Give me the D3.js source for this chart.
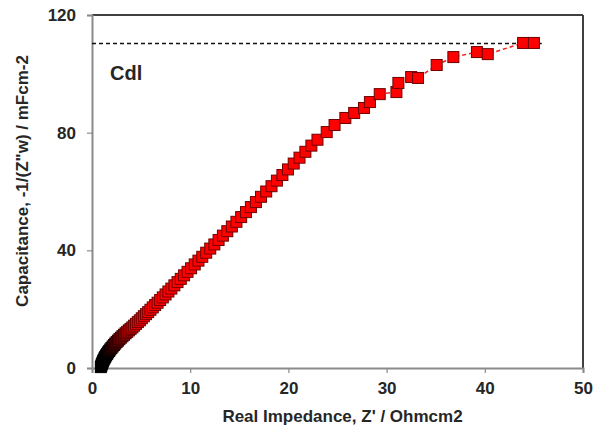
<!DOCTYPE html>
<html>
<head>
<meta charset="utf-8">
<script src="https://cdn.jsdelivr.net/npm/d3@7"></script>
<style>
  html, body { margin: 0; padding: 0; background: #fff; }
  svg { display: block; }
  text { font-family: Arial, "Liberation Sans", sans-serif; font-weight: bold; fill: #262626; }
</style>
</head>
<body>
<svg id="chart" width="594" height="428"></svg>
<script>
// ---- data ----
const realZ = [
  0.90, 0.95, 1.00, 1.06, 1.12, 1.19, 1.27, 1.35, 1.44, 1.54,
  1.64, 1.75, 1.86, 1.98, 2.10, 2.23, 2.36, 2.50, 2.64, 2.79,
  2.94, 3.10, 3.26, 3.42, 3.59, 3.76, 3.93, 4.11, 4.29, 4.48,
  4.67, 4.87, 5.07, 5.28, 5.50, 5.72, 5.95, 6.19, 6.43, 6.68,
  6.94, 7.21, 7.49, 7.78, 8.08, 8.39, 8.71, 9.04, 9.38, 9.73,
  10.09, 10.46, 10.84, 11.23, 11.63, 12.04, 12.46, 12.89, 13.33, 13.78,
  14.24, 14.71, 15.19, 15.68, 16.18, 16.69, 17.21, 17.74, 18.28, 18.83,
  19.39, 19.96, 20.54, 21.13, 21.73, 22.34, 22.96, 23.9, 24.7, 25.8,
  26.7, 27.7, 28.3, 29.3, 31.0, 31.2, 32.5, 33.2, 35.1, 36.8,
  39.2, 40.3, 43.9, 45.0
];
const capacitance = [
  0.3, 0.8, 1.3, 1.8, 2.3, 2.8, 3.3, 3.8, 4.3, 4.8,
  5.3, 5.8, 6.3, 6.8, 7.3, 7.8, 8.3, 8.8, 9.3, 9.8,
  10.3, 10.8, 11.3, 11.8, 12.3, 12.8, 13.3, 13.8, 14.4, 15.0,
  15.6, 16.2, 16.9, 17.6, 18.3, 19.0, 19.8, 20.6, 21.4, 22.2,
  23.1, 24.0, 25.0, 26.0, 27.0, 28.1, 29.2, 30.3, 31.5, 32.7,
  33.9, 35.2, 36.5, 37.8, 39.2, 40.6, 42.0, 43.5, 45.0, 46.5,
  48.1, 49.7, 51.3, 53.0, 54.7, 56.4, 58.2, 60.0, 61.8, 63.7,
  65.6, 67.5, 69.5, 71.5, 73.5, 75.6, 77.6, 80.2, 82.6, 85.0,
  86.7, 88.4, 90.4, 93.1, 93.8, 96.9, 98.9, 98.6, 103.0, 105.7,
  107.4, 106.7, 110.5, 110.5
];
const cdlValue = 110.3;
const cdlLineEnd = 45.8;
const xTicks = [0, 10, 20, 30, 40, 50];
const yTicks = [0, 40, 80, 120];
const xTitle = "Real Impedance, Z' / Ohmcm2";
const yTitle = 'Capacitance, -1/(Z"w) / mFcm-2';
const cdlLabel = "Cdl";

const points = realZ.map((x, i) => ({ x, y: capacitance[i] }));

// ---- layout ----
const svg = d3.select("#chart");
const L = 92, R = 583, T = 15, B = 368;
const x = d3.scaleLinear().domain([0, 50]).range([L, R]);
const y = d3.scaleLinear().domain([0, 120]).range([B, T]);

// frame top/right
svg.append("line").attr("x1", L).attr("x2", R).attr("y1", T).attr("y2", T)
  .attr("stroke", "#404040").attr("stroke-width", 2);
svg.append("line").attr("x1", R).attr("x2", R).attr("y1", T).attr("y2", B)
  .attr("stroke", "#404040").attr("stroke-width", 2);

// axes
const xAxis = svg.append("g").attr("transform", `translate(0,${B})`)
  .call(d3.axisBottom(x).tickValues(xTicks).tickSize(5).tickPadding(9).tickFormat(d3.format("d")));
const yAxis = svg.append("g").attr("transform", `translate(${L},0)`)
  .call(d3.axisLeft(y).tickValues(yTicks).tickSize(5).tickPadding(11).tickFormat(d3.format("d")));
[xAxis, yAxis].forEach(g => {
  g.select(".domain").attr("stroke", "#8a8a8a").attr("stroke-width", 2);
  g.selectAll(".tick line").attr("stroke", "#8a8a8a").attr("stroke-width", 1.2);
  g.selectAll(".tick text").style("font-size", "17px").style("font-family", "Arial, 'Liberation Sans', sans-serif")
    .style("font-weight", "bold").attr("fill", "#262626");
});

// Cdl dashed line
svg.append("line")
  .attr("x1", x(0)).attr("x2", x(cdlLineEnd))
  .attr("y1", y(cdlValue)).attr("y2", y(cdlValue))
  .attr("stroke", "#111").attr("stroke-width", 1.6).attr("stroke-dasharray", "4,3");

// connecting dashed red line
svg.append("path").datum(points)
  .attr("d", d3.line().x(d => x(d.x)).y(d => y(d.y)))
  .attr("fill", "none").attr("stroke", "#ff1a1a").attr("stroke-width", 1.5)
  .attr("stroke-dasharray", "4,3");

// markers
const fillScale = d3.scaleLinear().domain([5, 15]).range(["#000000", "#ff0000"]).clamp(true);
const strokeScale = d3.scaleLinear().domain([5, 15]).range(["#000000", "#6e0000"]).clamp(true);
const ms = 11;
svg.append("g").selectAll("rect").data(points).join("rect")
  .attr("x", d => x(d.x) - ms / 2).attr("y", d => y(d.y) - ms / 2)
  .attr("width", ms).attr("height", ms)
  .attr("fill", d => fillScale(d.y))
  .attr("stroke", d => strokeScale(d.y)).attr("stroke-width", 1);

// labels
svg.append("text").attr("x", 110).attr("y", 80).style("font-size", "20px").text(cdlLabel);
svg.append("text").attr("x", (L + R) / 2 + 5).attr("y", 422).attr("text-anchor", "middle")
  .style("font-size", "17px").text(xTitle);
svg.append("text").attr("transform", `translate(28,${181}) rotate(-90)`).attr("text-anchor", "middle")
  .style("font-size", "17px").text(yTitle);
</script>
</body>
</html>
